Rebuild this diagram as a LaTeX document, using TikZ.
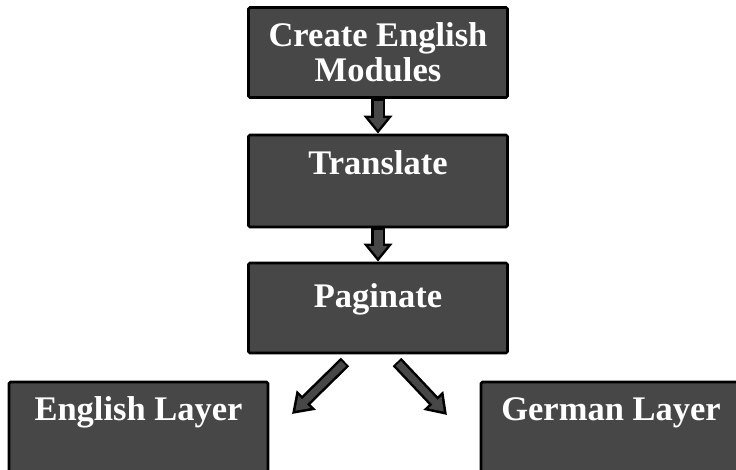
\documentclass[tikz,border=0pt]{standalone}
\usepackage{fontspec}
\setmainfont{Liberation Serif}
\usetikzlibrary{arrows.meta}

\begin{document}
\begin{tikzpicture}[x=1pt,y=1pt,
        stagebox/.style={draw=black,line width=2.8pt,rounded corners=1.5pt,fill=black!72,
            text=white,font=\fontsize{34.5}{35}\selectfont\bfseries,
            minimum width=259pt,minimum height=90pt,inner sep=0pt,align=center},
        oneline/.style={text height=23pt,text depth=#1},
        downarrow/.style={line width=9pt,draw=black!72,-{Triangle[length=11.5pt,width=18pt]},
            shorten >=4pt,shorten <=2pt,
            preaction={draw=black,line width=14pt,-{Triangle[length=18pt,width=28pt]},
                shorten >=0pt,shorten <=0pt}},
        splitarrow/.style={line width=7pt,draw=black!72,-{Triangle[length=12.9pt,width=16.8pt]},
            shorten >=4.6pt,shorten <=2pt,
            preaction={draw=black,line width=12pt,-{Triangle[length=20pt,width=26pt]},
                shorten >=0pt,shorten <=0pt}}]
    \useasboundingbox (0,0) rectangle (736,-470);
    \clip (0,0) rectangle (736,-470);
    % steps
    \node[stagebox] (create) at (378,-52.5) {Create English\\Modules};
    \node[stagebox,oneline=35pt,minimum height=92pt] (translate) at (378,-181) {Translate};
    \node[stagebox,oneline=25pt] (paginate) at (378,-308) {Paginate};
    \node[stagebox,oneline=37pt] (english) at (138.5,-427) {English Layer};
    \node[stagebox,oneline=37pt,minimum width=260pt] (german) at (611,-427) {German Layer};
    % arrows
    \draw[downarrow] (create) -- (translate);
    \draw[downarrow] (translate) -- (paginate);
    \coordinate (leftTail) at (345,-362);
    \coordinate (leftTip) at (292,-414);
    \coordinate (rightTail) at (397,-362);
    \coordinate (rightTip) at (447,-415);
    \draw[splitarrow] (leftTail) -- (leftTip);
    \draw[splitarrow] (rightTail) -- (rightTip);
\end{tikzpicture}
\end{document}
